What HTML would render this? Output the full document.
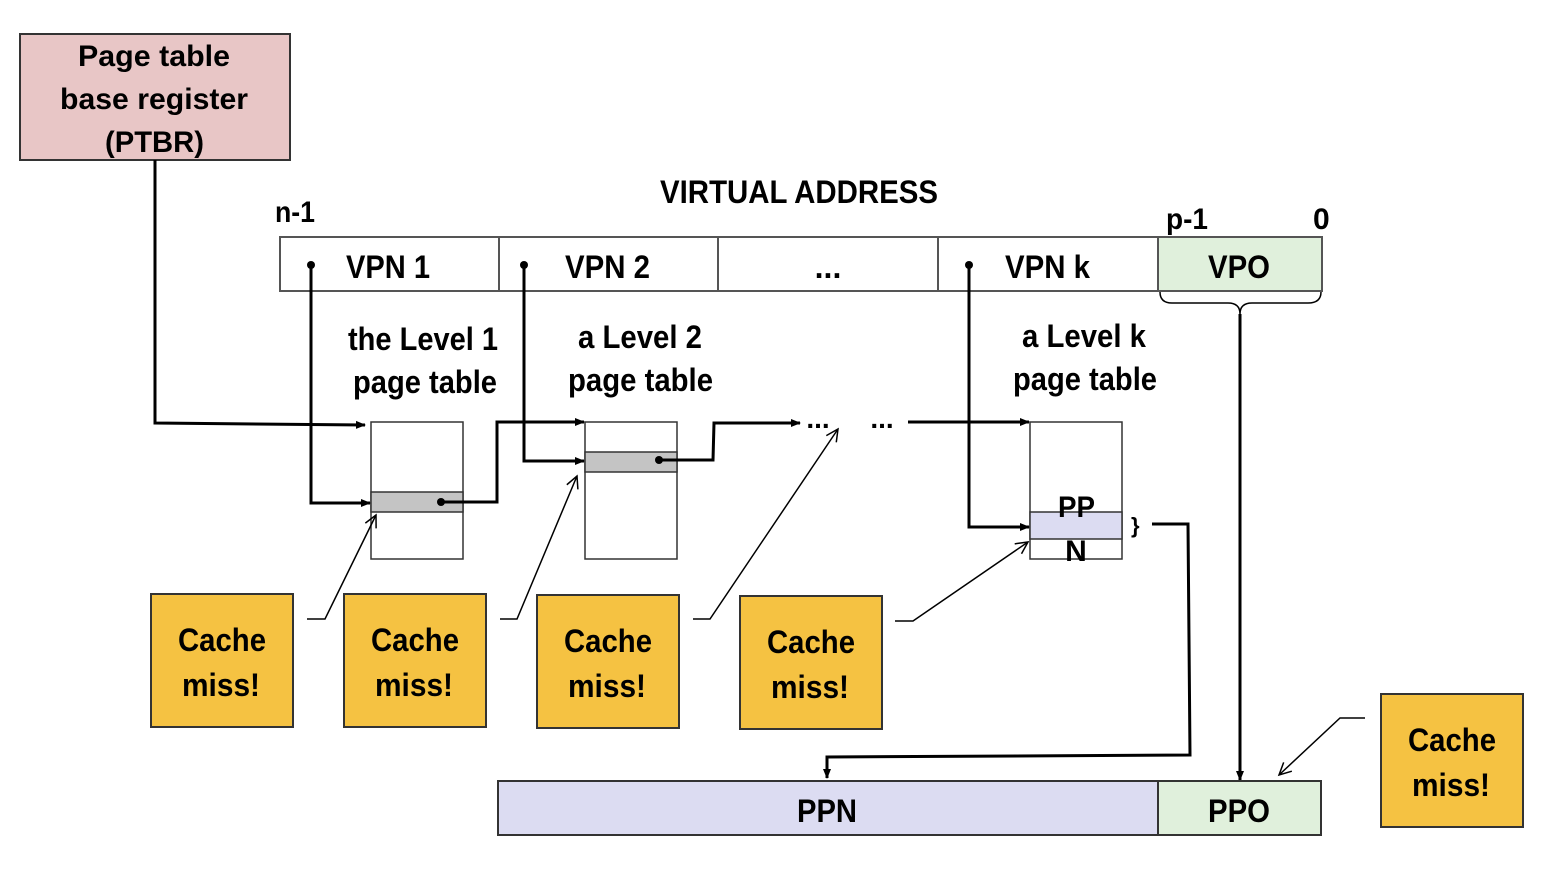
<!DOCTYPE html>
<html><head><meta charset="utf-8"><style>
html,body{margin:0;padding:0;background:#fff;}
svg{display:block;}
text{font-family:"Liberation Sans Narrow","Liberation Sans",sans-serif;font-weight:bold;fill:#000;}
</style></head><body>
<svg width="1554" height="880" viewBox="0 0 1554 880" xmlns="http://www.w3.org/2000/svg">
<defs>
<marker id="a" markerWidth="10" markerHeight="10" refX="9" refY="5" orient="auto" markerUnits="userSpaceOnUse"><path d="M0,1 L10,5 L0,9 z" fill="#000"/></marker>
<marker id="t" markerWidth="16" markerHeight="16" refX="13" refY="7" orient="auto" markerUnits="userSpaceOnUse"><path d="M1,1 L13,7 L1,13" fill="none" stroke="#000" stroke-width="1.5"/></marker>
</defs>
<!-- PTBR -->
<rect x="20" y="34" width="270" height="126" fill="#e8c6c6" stroke="#333" stroke-width="2"/>
<text x="78" y="66" font-size="30" textLength="152" lengthAdjust="spacingAndGlyphs">Page table</text>
<text x="60" y="109" font-size="30" textLength="188" lengthAdjust="spacingAndGlyphs">base register</text>
<text x="105" y="152" font-size="30" textLength="99" lengthAdjust="spacingAndGlyphs">(PTBR)</text>

<text x="660" y="203" font-size="32" textLength="278" lengthAdjust="spacingAndGlyphs">VIRTUAL ADDRESS</text>
<text x="275" y="222" font-size="30" textLength="40" lengthAdjust="spacingAndGlyphs">n-1</text>
<text x="1166" y="229" font-size="30" textLength="42" lengthAdjust="spacingAndGlyphs">p-1</text>
<text x="1313" y="229" font-size="30">0</text>

<!-- VA row -->
<g stroke="#555" stroke-width="2">
<rect x="280" y="237" width="878" height="54" fill="#fff"/>
<line x1="499" y1="237" x2="499" y2="291"/><line x1="718" y1="237" x2="718" y2="291"/><line x1="938" y1="237" x2="938" y2="291"/>
<rect x="1158" y="237" width="164" height="54" fill="#e0f0dc"/>
</g>
<text x="346" y="278" font-size="32" textLength="84" lengthAdjust="spacingAndGlyphs">VPN 1</text>
<text x="565" y="278" font-size="32" textLength="85" lengthAdjust="spacingAndGlyphs">VPN 2</text>
<text x="828" y="278" font-size="32" text-anchor="middle">...</text>
<text x="1005" y="278" font-size="32" textLength="85" lengthAdjust="spacingAndGlyphs">VPN k</text>
<text x="1208" y="278" font-size="32" textLength="62" lengthAdjust="spacingAndGlyphs">VPO</text>
<path d="M1160,292 Q1160,303 1172,303 L1228,303 Q1240,303 1240,314 Q1240,303 1252,303 L1308,303 Q1321,303 1321,292" fill="none" stroke="#000" stroke-width="1.5"/>

<!-- labels -->
<text x="348" y="350" font-size="32" textLength="150" lengthAdjust="spacingAndGlyphs">the Level 1</text>
<text x="353" y="393" font-size="32" textLength="144" lengthAdjust="spacingAndGlyphs">page table</text>
<text x="578" y="348" font-size="32" textLength="124" lengthAdjust="spacingAndGlyphs">a Level 2</text>
<text x="568" y="391" font-size="32" textLength="145" lengthAdjust="spacingAndGlyphs">page table</text>
<text x="1022" y="347" font-size="32" textLength="124" lengthAdjust="spacingAndGlyphs">a Level k</text>
<text x="1013" y="390" font-size="32" textLength="144" lengthAdjust="spacingAndGlyphs">page table</text>

<!-- tables -->
<g stroke="#333" stroke-width="1.5">
<rect x="371" y="422" width="92" height="137" fill="#fff"/>
<rect x="371" y="492" width="92" height="20" fill="#c4c4c4"/>
<rect x="585" y="422" width="92" height="137" fill="#fff"/>
<rect x="585" y="452" width="92" height="20" fill="#c4c4c4"/>
<rect x="1030" y="422" width="92" height="137" fill="#fff"/>
<rect x="1030" y="512" width="92" height="27" fill="#dcdcf2"/>
</g>
<text x="1058" y="517" font-size="30" textLength="37" lengthAdjust="spacingAndGlyphs">PP</text>
<text x="1076" y="561" font-size="30" text-anchor="middle">N</text>
<text x="1131" y="533" font-size="22">}</text>

<!-- connectors -->
<g fill="none" stroke="#000" stroke-width="3">
<polyline points="155,160 155,423 365,425" marker-end="url(#a)"/>
<polyline points="311,265 311,503 370,503" marker-end="url(#a)"/>
<polyline points="441,502 497,502 497,422 584,422" marker-end="url(#a)"/>
<polyline points="524,265 524,461 584,461" marker-end="url(#a)"/>
<polyline points="659,460 713,460 714,423 800,423" marker-end="url(#a)"/>
<polyline points="908,422 1029,422" marker-end="url(#a)"/>
<polyline points="969,265 969,527 1029,527" marker-end="url(#a)"/>
<polyline points="1152,524 1188,524 1190,755 827,757 827,778" marker-end="url(#a)"/>
<polyline points="1240,314 1240,780" marker-end="url(#a)"/>
</g>
<g fill="#000"><circle cx="311" cy="265" r="4"/><circle cx="524" cy="265" r="4"/><circle cx="969" cy="265" r="4"/><circle cx="441" cy="502" r="4"/><circle cx="659" cy="460" r="4"/></g>
<text x="818" y="428" font-size="28" text-anchor="middle">...</text>
<text x="882" y="428" font-size="28" text-anchor="middle">...</text>

<!-- thin callout lines -->
<g fill="none" stroke="#000" stroke-width="1.5">
<polyline points="307,619 325,619 376,515" marker-end="url(#t)"/>
<polyline points="500,619 517,619 577,476" marker-end="url(#t)"/>
<polyline points="693,619 710,619 838,429" marker-end="url(#t)"/>
<polyline points="895,621 913,621 1028,542" marker-end="url(#t)"/>
<polyline points="1365,718 1340,718 1279,775" marker-end="url(#t)"/>
</g>

<!-- bottom -->
<g stroke="#333" stroke-width="2">
<rect x="498" y="781" width="660" height="54" fill="#dcdcf2"/>
<rect x="1158" y="781" width="163" height="54" fill="#e0f0dc"/>
</g>
<text x="797" y="822" font-size="32" textLength="60" lengthAdjust="spacingAndGlyphs">PPN</text>
<text x="1208" y="822" font-size="32" textLength="62" lengthAdjust="spacingAndGlyphs">PPO</text>

<!-- cache miss boxes -->
<g stroke="#333" stroke-width="2" fill="#f5c242">
<rect x="151" y="594" width="142" height="133"/>
<rect x="344" y="594" width="142" height="133"/>
<rect x="537" y="595" width="142" height="133"/>
<rect x="740" y="596" width="142" height="133"/>
<rect x="1381" y="694" width="142" height="133"/>
</g>
<g font-size="32">
<text x="178" y="651" textLength="88" lengthAdjust="spacingAndGlyphs">Cache</text><text x="182" y="696" textLength="78" lengthAdjust="spacingAndGlyphs">miss!</text>
<text x="371" y="651" textLength="88" lengthAdjust="spacingAndGlyphs">Cache</text><text x="375" y="696" textLength="78" lengthAdjust="spacingAndGlyphs">miss!</text>
<text x="564" y="652" textLength="88" lengthAdjust="spacingAndGlyphs">Cache</text><text x="568" y="697" textLength="78" lengthAdjust="spacingAndGlyphs">miss!</text>
<text x="767" y="653" textLength="88" lengthAdjust="spacingAndGlyphs">Cache</text><text x="771" y="698" textLength="78" lengthAdjust="spacingAndGlyphs">miss!</text>
<text x="1408" y="751" textLength="88" lengthAdjust="spacingAndGlyphs">Cache</text><text x="1412" y="796" textLength="78" lengthAdjust="spacingAndGlyphs">miss!</text>
</g>
</svg>
</body></html>
